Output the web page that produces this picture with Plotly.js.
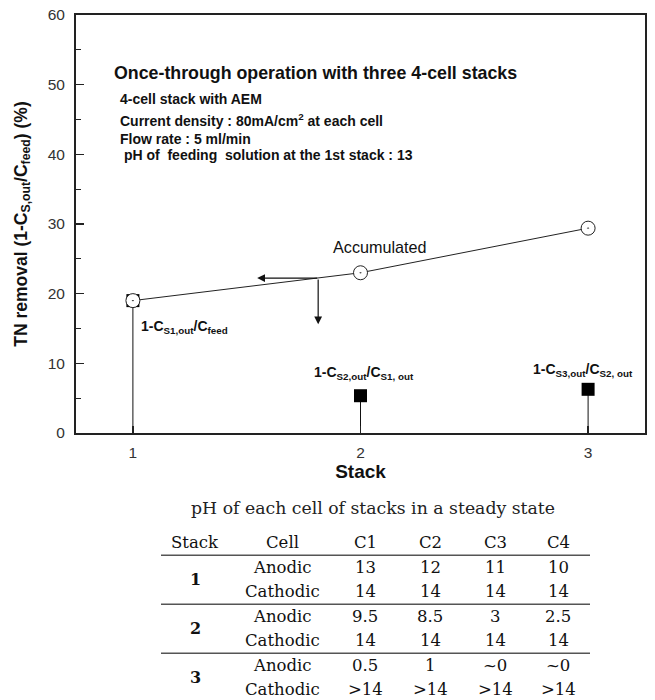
<!DOCTYPE html>
<html>
<head>
<meta charset="utf-8">
<script src="https://cdn.plot.ly/plotly-3.0.1.min.js"></script>
<style>html,body{margin:0;padding:0;background:#fff;}#chart{width:655px;height:700px;}</style>
</head>
<body>
<div id="chart"></div>
<script>
// ---- chart data ----
const stacks = [1, 2, 3];
const accumulated = [19.0, 23.0, 29.4];          // accumulated TN removal (%)
const perStack = [19.0, 5.35, 6.27];             // removal by each individual stack (%)
const xTickVals = [1, 2, 3];
const xTickText = ['1', '2', '3'];

// ---- table data ----
const tableTitle = 'pH of each cell of stacks in a steady state';
const tableHeader = ['Stack', 'Cell', 'C1', 'C2', 'C3', 'C4'];
const cellTypes = ['Anodic', 'Cathodic'];
const stackLabels = ['1', '2', '3'];
const stack1Anodic = ['13', '12', '11', '10'];
const stack1Cathodic = ['14', '14', '14', '14'];
const stack2Anodic = ['9.5', '8.5', '3', '2.5'];
const stack2Cathodic = ['14', '14', '14', '14'];
const stack3Anodic = ['0.5', '1', '~0', '~0'];
const stack3Cathodic = ['>14', '>14', '>14', '>14'];

// ---- layout constants ----
const SANS = 'Liberation Sans, Arial, sans-serif';
const SERIF = 'DejaVu Serif, serif';
const colX = [195, 282, 365, 430, 495, 558];     // table column centres (x2 units)

const traces = [];
// drop lines from axis to each stack value
const stemX = [], stemY = [];
stacks.forEach((s, i) => { stemX.push(s, s, null); stemY.push(0, perStack[i], null); });
traces.push({x: stemX, y: stemY, mode: 'lines', line: {color: '#111', width: 1}, hoverinfo: 'skip', showlegend: false});
traces.push({x: stacks, y: perStack, mode: 'markers', marker: {symbol: 'square', size: 13, color: '#000'}, showlegend: false});
traces.push({x: stacks, y: accumulated, mode: 'lines+markers', line: {color: '#222', width: 1},
  marker: {symbol: 'circle-dot', size: 14, color: '#fff', line: {color: '#222', width: 1}}, showlegend: false});
// invisible trace to anchor table axes
traces.push({x: [colX[0]], y: [0], xaxis: 'x2', yaxis: 'y2', mode: 'markers', marker: {opacity: 0}, hoverinfo: 'skip', showlegend: false});

const annotations = [];
const shapes = [];
const txt = (text, x, y, size, opts) => Object.assign({text: text, x: x, y: y, xref: 'x', yref: 'y', showarrow: false,
  font: {family: SANS, size: size, color: '#111'}}, opts || {});

annotations.push(txt('<b>Once-through operation with three 4-cell stacks</b>', 0.91, 51.65, 17.8, {xanchor: 'left'}));
annotations.push(txt('<b>4-cell stack with AEM</b>', 0.933, 47.9, 14, {xanchor: 'left'}));
annotations.push(txt('<b>Current density : 80mA/cm<sup>2</sup> at each cell</b>', 0.933, 44.9, 14, {xanchor: 'left'}));
annotations.push(txt('<b>Flow rate : 5 ml/min</b>', 0.933, 42.2, 14, {xanchor: 'left'}));
annotations.push(txt('<b>\u00a0pH of\u00a0 feeding\u00a0 solution at the 1st stack : 13</b>', 0.933, 39.9, 14, {xanchor: 'left'}));
annotations.push(txt('Accumulated', 2.086, 26.7, 16.2, {xanchor: 'center'}));
annotations.push(txt('<b>1-C<sub>S1,out</sub>/C<sub>feed</sub></b>', 1.028, 15.2, 14, {xanchor: 'left'}));
annotations.push(txt('<b>1-C<sub>S2,out</sub>/C<sub>S1, out</sub></b>', 2.016, 8.6, 14, {xanchor: 'center'}));
annotations.push(txt('<b>1-C<sub>S3,out</sub>/C<sub>S2, out</sub></b>', 2.979, 9.05, 14, {xanchor: 'center'}));
// arrows
annotations.push({x: 1.546, y: 22.24, ax: 1.816, ay: 22.24, xref: 'x', yref: 'y', axref: 'x', ayref: 'y', text: '',
  showarrow: true, arrowhead: 2, arrowsize: 1.3, arrowwidth: 1.2, arrowcolor: '#111'});
annotations.push({x: 1.814, y: 15.6, ax: 1.814, ay: 22.24, xref: 'x', yref: 'y', axref: 'x', ayref: 'y', text: '',
  showarrow: true, arrowhead: 2, arrowsize: 1.3, arrowwidth: 1.2, arrowcolor: '#111'});

// ---- table ----
const cell = (text, col, row, opts) => Object.assign({text: text, x: colX[col], y: row, xref: 'x2', yref: 'y2',
  showarrow: false, xanchor: 'center', yanchor: 'middle', font: {family: SERIF, size: 16.5, color: '#111'}}, opts || {});
annotations.push(cell(tableTitle, 0, -1.43, {x: 373, font: {family: SERIF, size: 17.3, color: '#222'}}));
tableHeader.forEach((h, c) => annotations.push(cell(h, c, 0)));
const stackRows = [[stack1Anodic, stack1Cathodic], [stack2Anodic, stack2Cathodic], [stack3Anodic, stack3Cathodic]];
stackRows.forEach((pair, s) => {
  annotations.push(cell('<b>' + stackLabels[s] + '</b>', 0, 1.5 + 2 * s, {font: {family: SERIF, size: 16, color: '#111'}}));
  pair.forEach((vals, k) => {
    const row = 1 + 2 * s + k;
    annotations.push(cell(cellTypes[k], 1, row));
    vals.forEach((v, c) => annotations.push(cell(v, c + 2, row)));
  });
});
[0.5, 2.5, 4.5].forEach(r => shapes.push({type: 'line', xref: 'x2', yref: 'y2', x0: 161, x1: 590, y0: r, y1: r,
  line: {color: '#555', width: 1.6}}));

const layout = {
  width: 655, height: 700,
  margin: {l: 76, r: 10, t: 15, b: 0},
  paper_bgcolor: '#fff', plot_bgcolor: '#fff',
  showlegend: false,
  font: {family: SANS, color: '#222'},
  xaxis: {
    domain: [0, 1], anchor: 'y', range: [0.75, 3.25], tickvals: xTickVals, ticktext: xTickText,
    ticks: 'inside', ticklen: 7, tickwidth: 1.2, tickcolor: '#222',
    showline: true, linewidth: 2, linecolor: '#222', mirror: true, showgrid: false, zeroline: false,
    tickfont: {family: SANS, size: 15.5, color: '#333'}, ticklabelstandoff: 4,
    title: {text: '<b>Stack</b>', font: {family: SANS, size: 19, color: '#111'}, standoff: 1}
  },
  yaxis: {
    domain: [0.3898, 1], anchor: 'x', range: [0, 60], dtick: 10, tick0: 0,
    ticks: 'inside', ticklen: 8, tickwidth: 1.2, tickcolor: '#222',
    minor: {dtick: 5, ticks: 'inside', ticklen: 5, tickwidth: 1.2, tickcolor: '#222', showgrid: false},
    showline: true, linewidth: 2, linecolor: '#222', mirror: true, showgrid: false, zeroline: false,
    tickfont: {family: SANS, size: 15.5, color: '#333'}, ticklabelstandoff: 6,
    title: {text: '<b>TN removal (1-C<sub>S,out</sub>/C<sub>feed</sub>) (%)</b>', font: {family: SANS, size: 17.5, color: '#111'}, standoff: 16}
  },
  xaxis2: {domain: [0, 1], anchor: 'y2', range: [76, 645], visible: false, fixedrange: true},
  yaxis2: {domain: [0, 0.3212], anchor: 'x2', range: [6.408, -2.571], visible: false, fixedrange: true},
  annotations: annotations,
  shapes: shapes
};

Plotly.newPlot('chart', traces, layout, {staticPlot: true, displayModeBar: false});
</script>
</body>
</html>
